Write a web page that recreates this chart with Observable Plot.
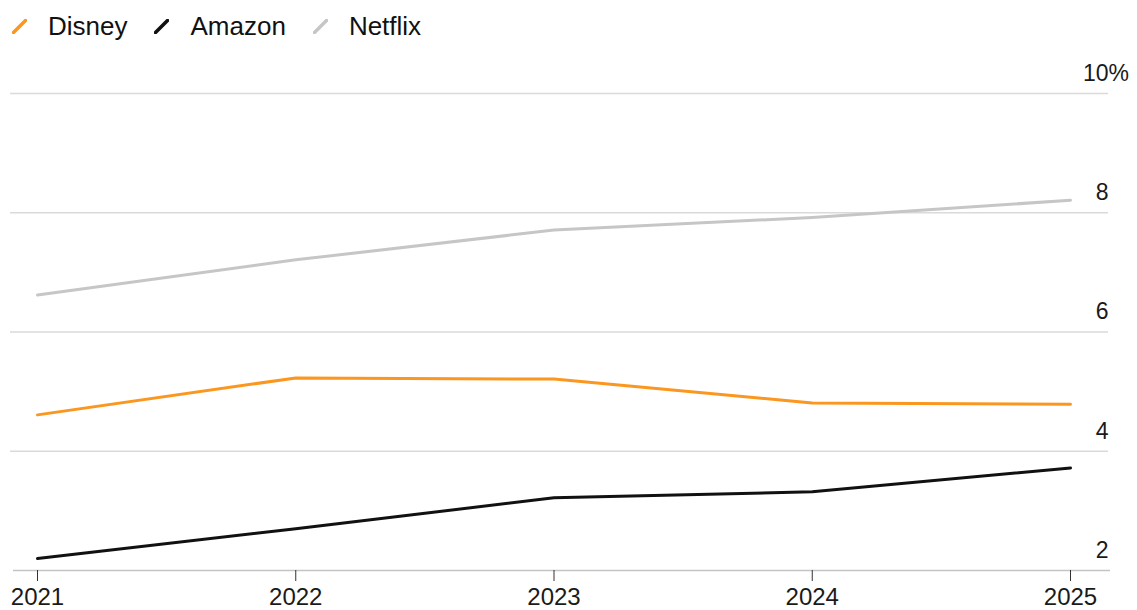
<!DOCTYPE html>
<html>
<head>
<meta charset="utf-8">
<script src="https://cdn.jsdelivr.net/npm/d3@7"></script>
<script src="https://cdn.jsdelivr.net/npm/@observablehq/plot@0.6"></script>
<style>
  html, body { margin: 0; padding: 0; background: #fff; }
  body { width: 1137px; height: 610px; overflow: hidden; font-family: "Liberation Sans", Arial, sans-serif; }
  #legend { height: 52px; display: flex; align-items: center; padding-left: 12px; font-size: 26px; color: #111; }
  .item { display: flex; align-items: center; margin-right: 27px; }
  .item svg { margin-right: 21px; }
</style>
</head>
<body>
<div id="legend"></div>
<div id="chart"></div>
<script>
const years = [2021, 2022, 2023, 2024, 2025];
const disney = [4.61, 5.23, 5.21, 4.81, 4.79];
const amazon = [2.20, 2.70, 3.22, 3.32, 3.72];
const netflix = [6.62, 7.21, 7.71, 7.92, 8.21];
const seriesNames = ["Disney", "Amazon", "Netflix"];
const seriesColors = ["#fb961f", "#111111", "#c6c6c6"];
const yTicks = [2, 4, 6, 8, 10];
const yTickLabels = ["2", "4", "6", "8", "10"];

const valuesBySeries = { Disney: disney, Amazon: amazon, Netflix: netflix };
const data = [];
for (const name of seriesNames) {
  valuesBySeries[name].forEach((v, i) => data.push({ series: name, year: years[i], value: v }));
}

// Legend
const legend = d3.select("#legend");
seriesNames.forEach((name, i) => {
  const item = legend.append("div").attr("class", "item");
  const svg = item.append("svg").attr("width", 15).attr("height", 15);
  svg.append("line").attr("x1", 1.5).attr("y1", 13.5).attr("x2", 13.5).attr("y2", 1.5)
    .attr("stroke", seriesColors[i]).attr("stroke-width", 3.5).attr("stroke-linecap", "round");
  item.append("span").text(name);
});

const chart = Plot.plot({
  width: 1137,
  height: 558,
  marginLeft: 37,
  marginRight: 67,
  marginTop: 41,
  marginBottom: 40,
  style: { fontFamily: "'Liberation Sans', Arial, sans-serif", fontSize: "23px", color: "#1a1a1a", background: "#fff" },
  x: { type: "linear", domain: [2021, 2025] },
  y: { domain: [2, 10], axis: null },
  color: { domain: seriesNames, range: seriesColors },
  marks: [
    Plot.ruleY(yTicks.slice(1), { stroke: "#dadada", strokeWidth: 1.5, insetLeft: -27, insetRight: -38 }),
    Plot.ruleY([yTicks[0]], { stroke: "#c4c4c4", strokeWidth: 1.5, insetLeft: -24, insetRight: -40 }),
    Plot.axisX({ ticks: years, tickFormat: d => String(d), tickSize: 11, tickPadding: 6, stroke: "#333", fontSize: 24, color: "#1a1a1a", label: null }),
    Plot.line(data, { x: "year", y: "value", z: "series", stroke: "series", strokeWidth: 3 }),
    Plot.text(yTicks, { x: () => 2025, y: d => d, text: (d, i) => yTickLabels[i], dx: 38, dy: -20, textAnchor: "end", fontSize: 23, fill: "#1a1a1a" }),
    Plot.text([yTicks[yTicks.length - 1]], { x: () => 2025, y: d => d, text: () => "%", dx: 38, dy: -20, textAnchor: "start", fontSize: 23, fill: "#1a1a1a" })
  ]
});
document.getElementById("chart").appendChild(chart);
</script>
</body>
</html>
